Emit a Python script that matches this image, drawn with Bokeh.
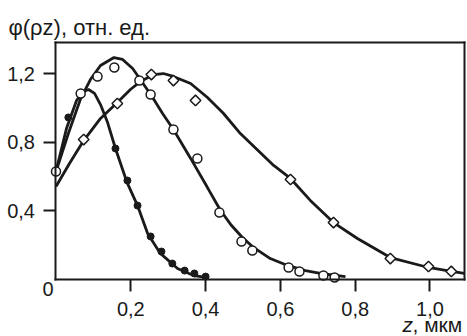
import numpy as np
from bokeh.plotting import figure
from bokeh.models import Label, FixedTicker, Range1d, LinearAxis
from bokeh.embed import file_html
from bokeh.resources import INLINE

# curve samples
c1_x = [0.0, 0.028, 0.055, 0.074, 0.087, 0.103, 0.119, 0.138, 0.159, 0.189, 0.218, 0.245, 0.279, 0.325, 0.368, 0.402]
c1_y = [0.63, 0.88, 1.044, 1.096, 1.108, 1.085, 1.02, 0.915, 0.764, 0.571, 0.431, 0.268, 0.152, 0.064, 0.023, 0.012]

c2_x = [0.0, 0.033, 0.066, 0.092, 0.119, 0.155, 0.178, 0.205, 0.231, 0.255, 0.285, 0.314, 0.36, 0.405, 0.44, 0.467, 0.496, 0.528, 0.573, 0.619, 0.667, 0.707, 0.774]
c2_y = [0.63, 0.851, 1.055, 1.166, 1.248, 1.294, 1.283, 1.23, 1.149, 1.073, 0.968, 0.875, 0.706, 0.536, 0.402, 0.321, 0.251, 0.187, 0.122, 0.082, 0.052, 0.035, 0.017]

c3_x = [0.0, 0.036, 0.074, 0.119, 0.164, 0.199, 0.226, 0.261, 0.287, 0.314, 0.36, 0.405, 0.448, 0.493, 0.582, 0.627, 0.68, 0.742, 0.806, 0.894, 0.996, 1.057, 1.092]
c3_y = [0.542, 0.676, 0.81, 0.939, 1.032, 1.108, 1.155, 1.195, 1.201, 1.184, 1.143, 1.061, 0.968, 0.851, 0.665, 0.589, 0.461, 0.332, 0.239, 0.128, 0.07, 0.047, 0.035]

# measured points
filled_x = [0.033, 0.159, 0.191, 0.218, 0.253, 0.282, 0.311, 0.344, 0.370, 0.400]
filled_y = [0.945, 0.764, 0.577, 0.431, 0.251, 0.163, 0.093, 0.052, 0.035, 0.017]

open_x = [0.0, 0.066, 0.111, 0.156, 0.223, 0.253, 0.314, 0.378, 0.437, 0.496, 0.525, 0.622, 0.651, 0.715, 0.745]
open_y = [0.63, 1.085, 1.184, 1.236, 1.16, 1.079, 0.875, 0.706, 0.391, 0.222, 0.169, 0.07, 0.047, 0.023, 0.012]

diam_x = [0.074, 0.164, 0.255, 0.314, 0.373, 0.627, 0.742, 0.894, 0.996, 1.057]
diam_y = [0.816, 1.026, 1.195, 1.16, 1.044, 0.583, 0.332, 0.122, 0.076, 0.047]

x_ticks = [0.2, 0.4, 0.6, 0.8, 1.0]
x_labels = ["0,2", "0,4", "0,6", "0,8", "1,0"]
y_ticks = [0.4, 0.8, 1.2]
y_labels = ["0,4", "0,8", "1,2"]

X_MAX = 1.092   # right edge of the plotting box
Y_MAX = 1.382   # top edge of the plotting box

FONT = "Liberation Sans"
INK = "#1a1a1a"
W, H = 467, 336
DY = 9  # text baseline correction for screen-placed labels

# the frame covers the whole canvas; the box is drawn by four fixed-location axes
p = figure(width=W, height=H, output_backend="svg", toolbar_location=None,
           x_range=Range1d(-0.1484, 1.1003), y_range=Range1d(-0.3324, 1.6268),
           x_axis_location=None, y_axis_location=None,
           min_border=0, min_border_left=0, min_border_right=0, min_border_top=0, min_border_bottom=0)
p.grid.visible = False
p.outline_line_color = None
p.background_fill_color = "white"
p.border_fill_color = "white"


def styled_axis(ax, ticks, labels):
    ax.axis_line_color = INK
    ax.axis_line_width = 2
    ax.axis_line_cap = "square"
    ax.major_tick_line_color = INK
    ax.major_tick_line_width = 2
    ax.major_tick_out = 12
    ax.major_tick_in = 0
    ax.minor_tick_line_color = None
    ax.ticker = FixedTicker(ticks=ticks)
    if labels:
        ax.major_label_overrides = dict(zip(ticks, labels))
        ax.major_label_text_font = FONT
        ax.major_label_text_font_size = "20px"
        ax.major_label_text_color = INK
    else:
        ax.major_label_text_font_size = "0px"
        ax.major_label_text_color = None
    return ax


xb = styled_axis(LinearAxis(fixed_location=0, bounds=(0, X_MAX)), x_ticks, x_labels)
xb.major_label_standoff = 11
p.add_layout(xb, "below")
yl = styled_axis(LinearAxis(fixed_location=0, bounds=(0, Y_MAX)), y_ticks, y_labels)
yl.major_label_standoff = 9
p.add_layout(yl, "left")
xt = styled_axis(LinearAxis(fixed_location=Y_MAX, bounds=(0, X_MAX)), [], None)
p.add_layout(xt, "above")
yr = styled_axis(LinearAxis(fixed_location=X_MAX, bounds=(0, Y_MAX)), [], None)
p.add_layout(yr, "right")

lw = 2.8
p.line(c1_x, c1_y, line_color=INK, line_width=lw)
p.line(c2_x, c2_y, line_color=INK, line_width=lw)
p.line(c3_x, c3_y, line_color=INK, line_width=lw)

p.scatter(filled_x, filled_y, marker="circle", size=7, fill_color=INK, line_color=INK)
p.scatter(open_x, open_y, marker="circle", size=9, fill_color="white", line_color=INK, line_width=1.5)
p.scatter(diam_x, diam_y, marker="square", angle=np.pi / 4, size=7.5, fill_color="white", line_color=INK, line_width=1.5)

# screen positions: x from the left edge, y up from the bottom edge of the canvas
p.add_layout(Label(x=8, y=H - 36 + DY, x_units="screen", y_units="screen", text="φ(ρz), отн. ед.",
                   text_font=FONT, text_font_size="22px", text_color=INK, text_baseline="alphabetic"))
p.add_layout(Label(x=53, y=H - 297 + DY, x_units="screen", y_units="screen", text="0", text_align="right",
                   text_font=FONT, text_font_size="20px", text_color=INK, text_baseline="alphabetic"))
p.add_layout(Label(x=402, y=H - 333 + DY, x_units="screen", y_units="screen", text="z",
                   text_font=FONT, text_font_size="21px", text_font_style="italic", text_color=INK,
                   text_baseline="alphabetic"))
p.add_layout(Label(x=412, y=H - 333 + DY, x_units="screen", y_units="screen", text=", мкм",
                   text_font=FONT, text_font_size="21px", text_color=INK, text_baseline="alphabetic"))

open("out.html", "w").write(file_html(p, INLINE))
